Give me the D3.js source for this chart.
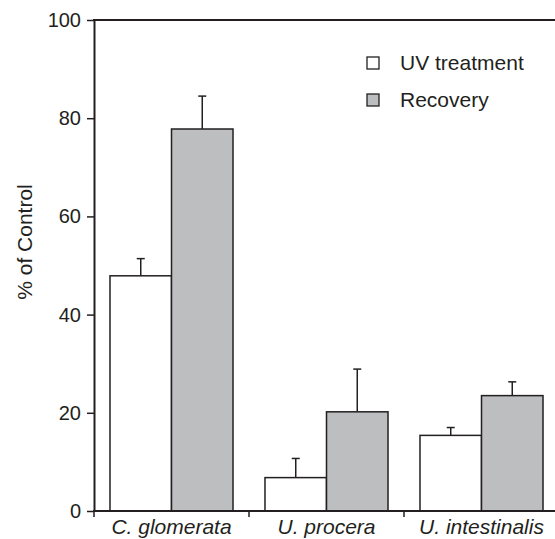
<!DOCTYPE html>
<html>
<head>
<meta charset="utf-8">
<script src="https://cdn.jsdelivr.net/npm/d3@7"></script>
<style>
  body { margin: 0; background: #fff; }
  svg { display: block; font-family: "Liberation Sans", Arial, sans-serif; }
</style>
</head>
<body>
<div id="chart"></div>
<script>
// data
const species = ["C. glomerata", "U. procera", "U. intestinalis"];
const series = ["UV treatment", "Recovery"];
const uvValues = [47.9, 6.8, 15.4];
const uvErrors = [3.5, 3.9, 1.6];
const recoveryValues = [77.8, 20.2, 23.5];
const recoveryErrors = [6.7, 8.7, 2.8];
const yTicks = [0, 20, 40, 60, 80, 100];

const width = 555, height = 539;
const ink = "#231f20";
const colors = { "UV treatment": "#ffffff", "Recovery": "#bdbec0" };

const svg = d3.select("#chart").append("svg")
    .attr("width", width)
    .attr("height", height);

const x = d3.scaleBand().domain(species).range([94, 559]).paddingInner(0).paddingOuter(0);
const xs = d3.scaleBand().domain(series).range([0, x.bandwidth()]).paddingInner(0).paddingOuter(0.26);
const y = d3.scaleLinear().domain([0, 100]).range([511, 20]);

// build rows for bars
const rows = [];
species.forEach((sp, i) => {
    rows.push({ sp, s: series[0], v: uvValues[i], e: uvErrors[i] });
    rows.push({ sp, s: series[1], v: recoveryValues[i], e: recoveryErrors[i] });
});

// error bars (drawn first so the bar outline sits on top)
const err = svg.append("g").attr("stroke", ink).attr("stroke-width", 1.5);
rows.forEach(d => {
    const cx = x(d.sp) + xs(d.s) + xs.bandwidth() / 2;
    err.append("line").attr("x1", cx).attr("x2", cx).attr("y1", y(d.v)).attr("y2", y(d.v + d.e));
    err.append("line").attr("x1", cx - 4).attr("x2", cx + 4).attr("y1", y(d.v + d.e)).attr("y2", y(d.v + d.e));
});

svg.append("g").selectAll("rect")
    .data(rows)
    .join("rect")
    .attr("x", d => x(d.sp) + xs(d.s))
    .attr("y", d => y(d.v))
    .attr("width", xs.bandwidth())
    .attr("height", d => y(0) - y(d.v))
    .attr("fill", d => colors[d.s])
    .attr("stroke", ink)
    .attr("stroke-width", 1.5);

// y axis
const yAxis = svg.append("g")
    .attr("transform", "translate(94,0)")
    .call(d3.axisLeft(y).tickValues(yTicks).tickSize(7).tickPadding(6).tickSizeOuter(0));
yAxis.select(".domain").attr("stroke", ink).attr("stroke-width", 2);
yAxis.selectAll(".tick line").attr("stroke", ink).attr("stroke-width", 1.5);
yAxis.selectAll(".tick text").attr("fill", ink).style("font-size", "20px");

// top frame line
svg.append("line")
    .attr("x1", 93).attr("x2", width)
    .attr("y1", y(100)).attr("y2", y(100))
    .attr("stroke", ink).attr("stroke-width", 2);

// x axis line and category boundary ticks
svg.append("line")
    .attr("x1", 93).attr("x2", width)
    .attr("y1", y(0)).attr("y2", y(0))
    .attr("stroke", ink).attr("stroke-width", 2);
svg.append("g").selectAll("line")
    .data(species)
    .join("line")
    .attr("x1", d => x(d)).attr("x2", d => x(d))
    .attr("y1", y(0)).attr("y2", y(0) + 6)
    .attr("stroke", ink).attr("stroke-width", 1.5);

svg.append("g").selectAll("text")
    .data(species)
    .join("text")
    .attr("x", d => x(d) + x.bandwidth() / 2)
    .attr("y", 534)
    .attr("text-anchor", "middle")
    .attr("fill", ink)
    .style("font-size", "21px")
    .style("font-style", "italic")
    .text(d => d);

// y label
svg.append("text")
    .attr("transform", "translate(32,242) rotate(-90)")
    .attr("text-anchor", "middle")
    .attr("fill", ink)
    .style("font-size", "21px")
    .text("% of Control");

// legend
const legend = svg.append("g").selectAll("g")
    .data(series)
    .join("g")
    .attr("transform", (d, i) => `translate(367,${57 + i * 37})`);
legend.append("rect")
    .attr("width", 12).attr("height", 12)
    .attr("fill", d => colors[d])
    .attr("stroke", ink).attr("stroke-width", 1.3);
legend.append("text")
    .attr("x", 33).attr("y", 13)
    .attr("fill", ink)
    .style("font-size", "21px")
    .text(d => d);
</script>
</body>
</html>
